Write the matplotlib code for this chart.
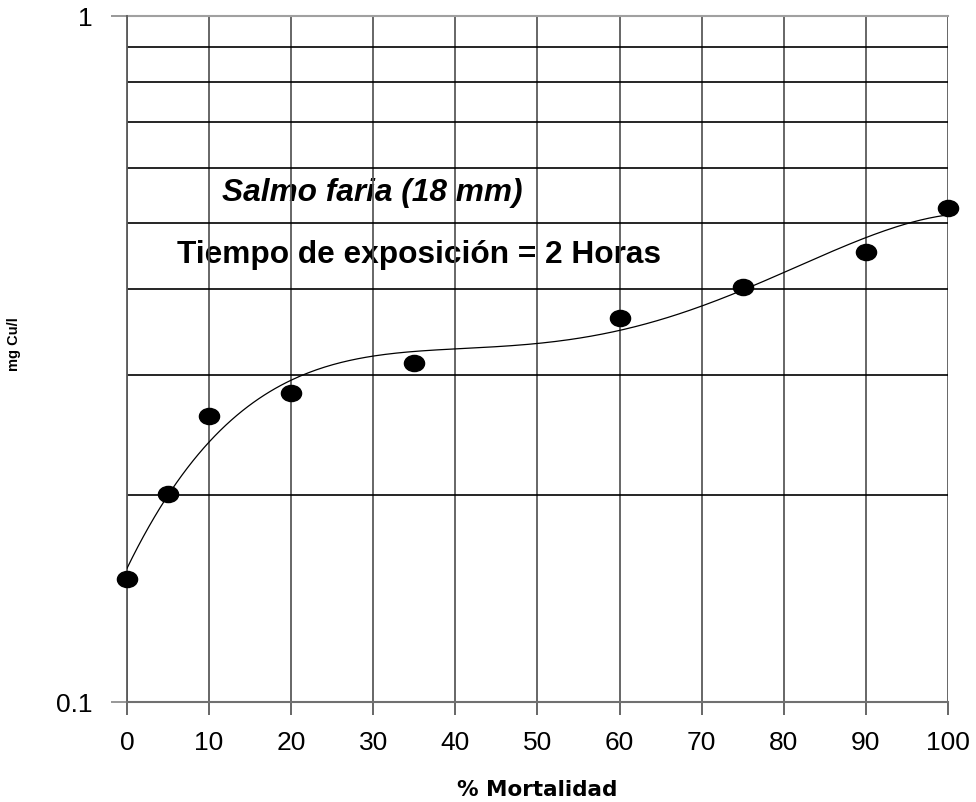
"""
Salmo faria - mortalidad vs concentracion de cobre
"""

import matplotlib.pyplot as plt
from matplotlib.path import Path
import numpy as np

plt.rcParams['font.family'] = ['Liberation Sans', 'DejaVu Sans']

mortalidad = [0, 5, 10, 20, 35, 60, 75, 90, 100]
cobre = [0.151, 0.201, 0.261, 0.282, 0.312, 0.363, 0.403, 0.453, 0.525]

x_ticks = [0, 10, 20, 30, 40, 50, 60, 70, 80, 90, 100]
y_grid = [0.2, 0.3, 0.4, 0.5, 0.6, 0.7, 0.8, 0.9]

# linea de tendencia polinomica sobre el log de la concentracion
coef = np.polyfit(mortalidad, np.log10(cobre), 4)
xs = np.linspace(0, 100, 300)
ys = 10 ** np.polyval(coef, xs)

# marcador algo achatado (el grafico original esta estirado a lo ancho)
circ = Path.unit_circle()
elipse = Path(circ.vertices * [1.0, 0.8], circ.codes)

fig = plt.figure(figsize=(9.76, 8.02), dpi=100)
ax = fig.add_axes([127/976, 1-702/802, 821/976, 686/802])

ax.set_yscale('log')
ax.set_xlim(0, 100)
ax.set_ylim(0.1, 1)

for x in x_ticks:
    ax.axvline(x, color='#5a5a5a', lw=1.3, zorder=2)
for y in y_grid:
    ax.axhline(y, color='black', lw=1.2, zorder=2)
ax.axhline(1, color='#a0a0a0', lw=1.5, zorder=2, clip_on=False)

ax.plot(xs, ys, color='black', lw=0.9, zorder=3)
ax.plot(mortalidad, cobre, ls='none', marker=elipse, color='black', ms=14.5,
        zorder=4, clip_on=False)

for s in ['top', 'right']:
    ax.spines[s].set_visible(False)
ax.spines['left'].set_color('#5a5a5a')
ax.spines['bottom'].set_color('#707070')
ax.spines['left'].set_linewidth(1.3)
ax.spines['bottom'].set_linewidth(1.5)

ax.set_xticks(x_ticks)
ax.set_yticks([0.1, 1])
ax.set_yticklabels(['0.1', '1'])
ax.yaxis.set_minor_locator(plt.NullLocator())
ax.tick_params(axis='x', direction='out', length=9.5, width=1.3,
               color='#5a5a5a', labelsize=19, pad=11.5)
ax.tick_params(axis='y', direction='out', length=11.5, width=1.3,
               color='#909090', labelsize=19, pad=13.5)

ax.set_xlabel('% Mortalidad', fontsize=15.5, fontweight='bold',
              family='DejaVu Sans', labelpad=18)
fig.text(14/976, 1-344/802, 'mg Cu/l', rotation=90, fontsize=10.5,
         fontweight='bold', ha='center', va='center')

ax.text(222/976, 1-193/802, 'Salmo faria (18 mm)', transform=fig.transFigure,
        fontsize=22.8, fontweight='bold', style='italic', va='center', zorder=1)
ax.text(177/976, 1-255/802, 'Tiempo de exposición = 2 Horas', transform=fig.transFigure,
        fontsize=22.8, fontweight='bold', va='center', zorder=1)

plt.savefig('out.png')
